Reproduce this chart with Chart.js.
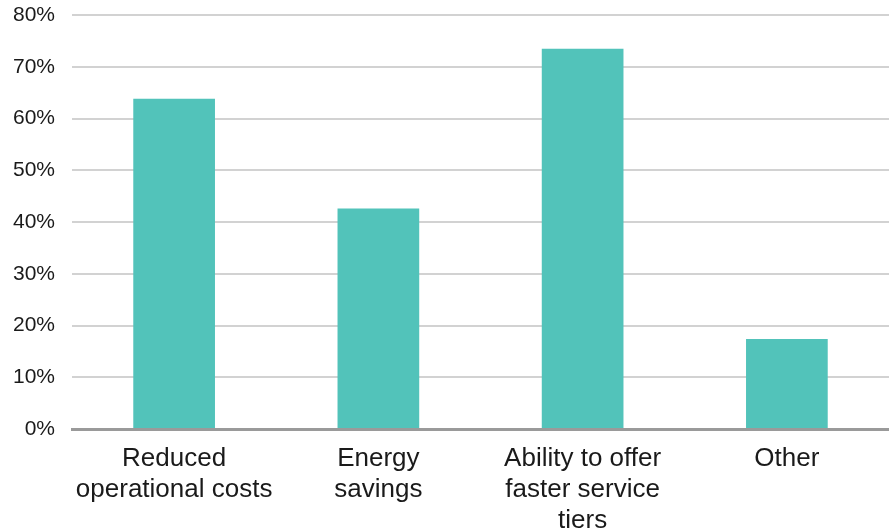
<!DOCTYPE html>
<html>
<head>
<meta charset="utf-8">
<script src="https://cdn.jsdelivr.net/npm/chart.js@4/dist/chart.umd.min.js"></script>
<style>
  html, body { margin: 0; padding: 0; background: #fff; }
  #wrap { width: 889px; height: 531px; }
</style>
</head>
<body>
<div id="wrap"><canvas id="benefitsChart"></canvas></div>
<script>
// chart data
const categories = [
  ["Reduced", "operational costs"],
  ["Energy", "savings"],
  ["Ability to offer", "faster service", "tiers"],
  ["Other"],
];
const shares = [63.8, 42.6, 73.5, 17.4];
const yTicks = [0, 10, 20, 30, 40, 50, 60, 70, 80];

document.addEventListener("DOMContentLoaded", function () {
  const ctx = document.getElementById("benefitsChart").getContext("2d");
  new Chart(ctx, {
    type: "bar",
    data: {
      labels: categories,
      datasets: [
        {
          data: shares,
          backgroundColor: "#52c3ba",
          borderWidth: 0,
          barPercentage: 0.4,
          categoryPercentage: 1,
        },
      ],
    },
    options: {
      responsive: true,
      maintainAspectRatio: false,
      animation: false,
      layout: { padding: { top: 15, left: 0, right: 0, bottom: 0 } },
      plugins: {
        legend: { display: false },
        tooltip: { enabled: false },
      },
      scales: {
        x: {
          grid: { display: false, drawTicks: false },
          border: { display: true, color: "#9a9a9a", width: 3 },
          ticks: {
            color: "#1a1a1a",
            padding: 14,
            maxRotation: 0,
            autoSkip: false,
            font: { family: "'Liberation Sans', Arial, sans-serif", size: 26, lineHeight: 1.2 },
          },
          afterFit: function (scale) {
            scale.height = 102;
            scale.paddingLeft = 0;
            scale.paddingRight = 0;
          },
        },
        y: {
          min: 0,
          max: 80,
          afterBuildTicks: function (scale) {
            scale.ticks = yTicks.map((v) => ({ value: v }));
          },
          grid: { color: "#d2d2d2", lineWidth: 2, drawTicks: false },
          border: { display: false },
          ticks: {
            color: "#1a1a1a",
            padding: 17,
            font: { family: "'Liberation Sans', Arial, sans-serif", size: 21 },
            callback: (v) => v + "%",
          },
          afterFit: function (scale) {
            scale.width = 72;
            scale.paddingTop = 0;
            scale.paddingBottom = 0;
          },
        },
      },
    },
  });
});
</script>
</body>
</html>
